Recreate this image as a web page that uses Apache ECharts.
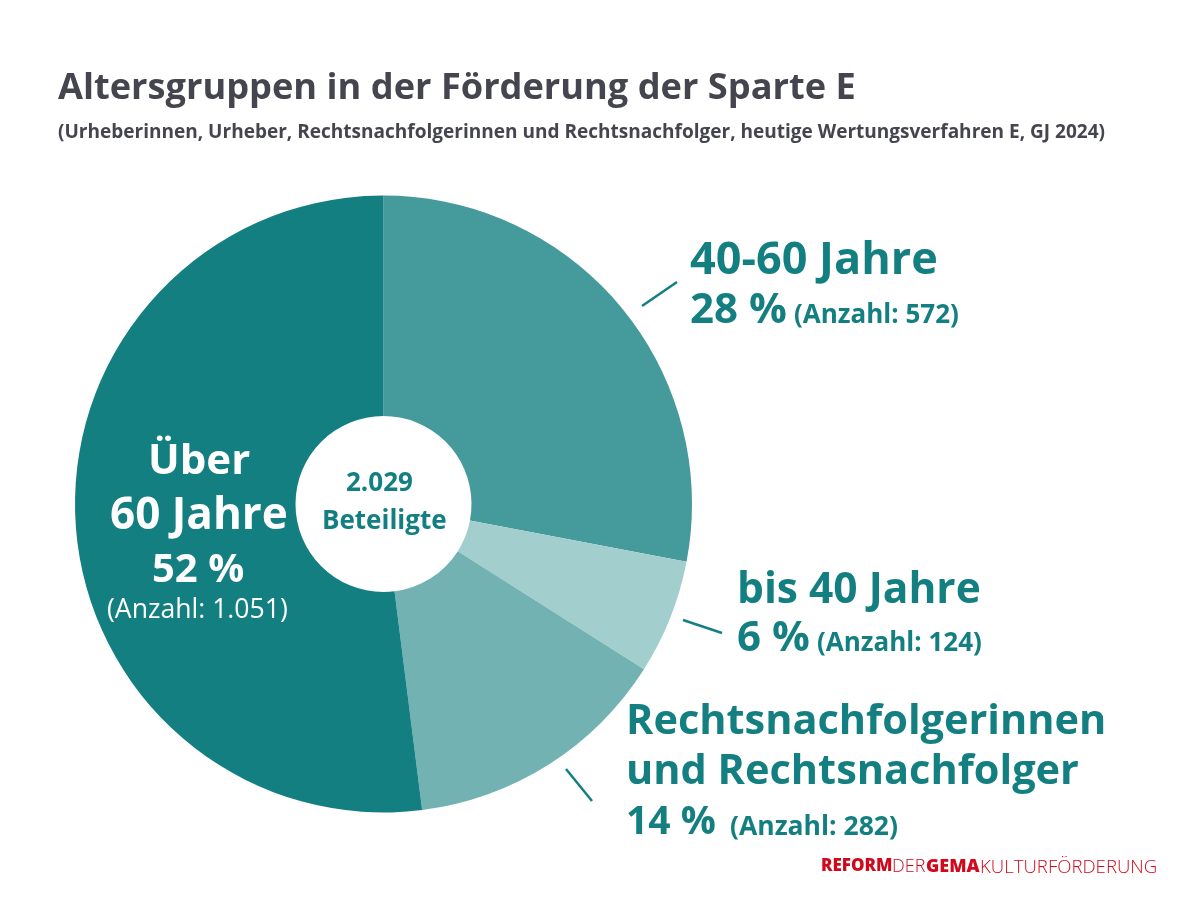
<!DOCTYPE html>
<html>
<head>
<meta charset="utf-8">
<style>html,body{margin:0;padding:0;background:#fff}#main{width:1200px;height:900px}</style>
<script src="https://cdn.jsdelivr.net/npm/echarts@6/dist/echarts.min.js"></script>
</head>
<body>
<div id="main"></div>
<script>
// Reihenfolge im Uhrzeigersinn ab 12 Uhr
var groups = ['40-60 Jahre', 'bis 40 Jahre', 'Rechtsnachfolgerinnen und Rechtsnachfolger', 'Über 60 Jahre']
var percents = [28, 6, 14, 52]
var counts = ['572', '124', '282', '1.051']
var total = '2.029'
var colors = ['#459a9b', '#a2cecd', '#73b2b3', '#137f80']

var teal = '#137f80'
var grey = '#45454f'
var red = '#d0091c'
var font = '"Open Sans", "Noto Sans", sans-serif'

var pieData = []
for (var i = 0; i < groups.length; i++) {
  pieData.push({
    name: groups[i],
    value: percents[i],
    itemStyle: { color: colors[i] }
  })
}

function txt(x, y, text, size, weight, color) {
  return {
    type: 'text', left: x, top: y, z: 10,
    style: { text: text, font: weight + ' ' + size + 'px ' + font, fill: color || teal }
  }
}
function tick(x1, y1, x2, y2) {
  return {
    type: 'line', z: 10,
    shape: { x1: x1, y1: y1, x2: x2, y2: y2 },
    style: { stroke: teal, lineWidth: 2.5 }
  }
}

var myChart = echarts.init(document.getElementById('main'))
myChart.setOption({
  animation: false,
  series: [{
    type: 'pie',
    center: [383.5, 504],
    radius: [88, 308.5],
    startAngle: 90,
    clockwise: true,
    label: { show: false },
    labelLine: { show: false },
    data: pieData
  }],
  graphic: [
    txt(58, 71, 'Altersgruppen in der Förderung der Sparte E', 36.2, 700, grey),
    txt(58, 123, '(Urheberinnen, Urheber, Rechtsnachfolgerinnen und Rechtsnachfolger, heutige Wertungsverfahren E, GJ 2024)', 19.05, 700, grey),
    tick(642, 306, 677, 282),
    tick(683, 620, 722, 633),
    tick(566, 769, 592, 801),
    txt(690, 239, groups[0], 45, 700),
    txt(690, 290, percents[0] + ' %', 42, 700),
    txt(794, 303, '(Anzahl: ' + counts[0] + ')', 26, 700),
    txt(737, 569, groups[1], 42.5, 700),
    txt(737, 618, percents[1] + ' %', 42, 700),
    txt(817, 631, '(Anzahl: ' + counts[1] + ')', 26, 700),
    txt(626, 701, 'Rechtsnachfolgerinnen', 41.5, 700),
    txt(626, 751, 'und Rechtsnachfolger', 41.5, 700),
    txt(626, 803, percents[2] + ' %', 39, 700),
    txt(730, 814, '(Anzahl: ' + counts[2] + ')', 26.5, 700),
    txt(148, 441, 'Über', 42, 700, '#fff'),
    txt(110, 494, '60 Jahre', 44, 700, '#fff'),
    txt(152, 551, percents[3] + ' %', 40, 700, '#fff'),
    txt(107, 597, '(Anzahl: ' + counts[3] + ')', 26.6, 400, '#fff'),
    txt(346, 471, total, 26, 700),
    txt(322, 509, 'Beteiligte', 26, 700),
    txt(821, 858, 'REFORM', 17, 800, red),
    txt(892, 858, 'DER', 18, 300, red),
    txt(926, 858, 'GEMA', 18, 800, red),
    txt(980, 858, 'KULTURFÖRDERUNG', 18.6, 300, red)
  ]
})
</script>
</body>
</html>
